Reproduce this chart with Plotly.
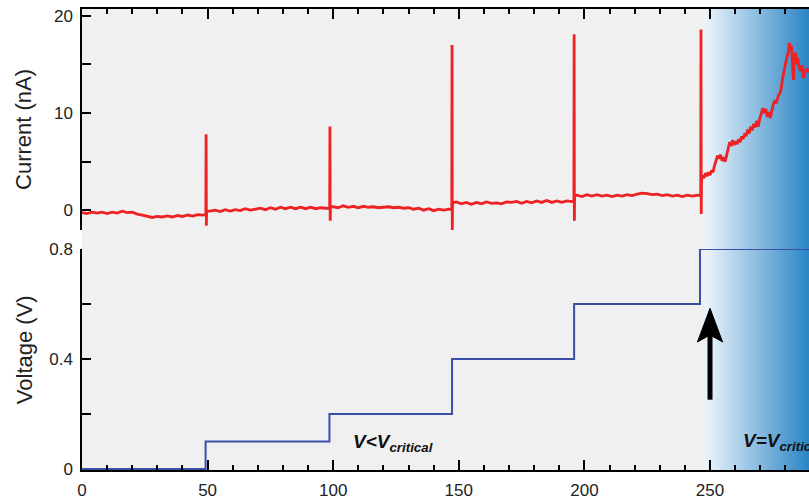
import plotly.graph_objects as go

# ---------------- data ----------------
seg_a_t = [0, 2, 4, 6, 8, 10, 12, 14, 16, 18, 20, 22, 24, 26, 28, 30, 32, 34, 36, 38, 40, 42, 44, 46, 48]
seg_a_i = [-0.25, -0.35, -0.2, -0.3, -0.2, -0.35, -0.2, -0.3, -0.1, -0.25, -0.2, -0.4, -0.5, -0.65, -0.75,
           -0.65, -0.7, -0.6, -0.7, -0.55, -0.65, -0.5, -0.6, -0.45, -0.5]
spike1_t = [49.3, 49.4, 49.5, 49.6]
spike1_i = [-0.45, 7.8, -1.6, -0.1]
seg_b_t = [51, 53, 55, 57, 59, 61, 63, 65, 67, 69, 71, 73, 75, 77, 79, 81, 83, 85, 87, 89, 91, 93, 95, 97]
seg_b_i = [-0.1, 0.0, -0.15, 0.05, -0.1, 0.05, -0.05, 0.15, 0.0, 0.1, 0.2, 0.05, 0.25, 0.1, 0.3, 0.15,
           0.3, 0.15, 0.3, 0.15, 0.3, 0.15, 0.25, 0.2]
spike2_t = [98.6, 98.7, 98.8, 98.9]
spike2_i = [0.2, 8.6, -1.1, 0.35]
seg_c_t = [100, 102, 104, 106, 108, 110, 112, 114, 116, 118, 120, 122, 124, 126, 128, 130, 132, 134, 136,
           138, 140, 142, 144, 146]
seg_c_i = [0.35, 0.25, 0.45, 0.3, 0.4, 0.25, 0.4, 0.3, 0.35, 0.25, 0.3, 0.35, 0.25, 0.3, 0.2, 0.25, 0.1,
           0.2, 0.0, 0.15, -0.05, 0.1, 0.0, 0.1]
spike3_t = [147.2, 147.3, 147.4, 147.5]
spike3_i = [0.05, 17.0, -2.1, 0.75]
seg_d_t = [149, 151, 153, 155, 157, 159, 161, 163, 165, 167, 169, 171, 173, 175, 177, 179, 181, 183, 185,
           187, 189, 191, 193, 195]
seg_d_i = [0.85, 0.65, 0.8, 0.6, 0.8, 0.65, 0.85, 0.7, 0.75, 0.65, 0.85, 0.8, 0.9, 0.7, 0.9, 0.75, 0.95,
           0.8, 1.0, 0.8, 0.95, 0.8, 0.95, 0.85]
spike4_t = [195.8, 195.9, 196.0, 196.1]
spike4_i = [0.85, 18.1, -1.1, 1.5]
seg_e_t = [197, 199, 201, 203, 205, 207, 209, 211, 213, 215, 217, 219, 221, 223, 225, 227, 229, 231, 233,
           235, 237, 239, 241, 243, 245]
seg_e_i = [1.55, 1.4, 1.6, 1.45, 1.6, 1.45, 1.55, 1.4, 1.55, 1.45, 1.6, 1.5, 1.65, 1.75, 1.7, 1.6, 1.65,
           1.5, 1.6, 1.45, 1.55, 1.4, 1.55, 1.45, 1.55]
spike5_t = [246.3, 246.4, 246.5, 246.6]
spike5_i = [1.5, 18.6, -0.4, 3.0]
seg_f_t = [247.0, 247.6, 248.2, 248.8, 249.4, 250.0, 250.6, 251.2, 251.8, 252.4, 253.0, 253.6, 254.2,
           254.8, 255.4, 256.0, 256.6, 257.2, 257.8, 258.4, 259.0, 259.6, 260.2, 260.8, 261.4, 262.0,
           262.6, 263.2, 263.8, 264.4, 265.0, 265.6, 266.2, 266.8, 267.4, 268.0, 268.6, 269.2, 269.8,
           270.4, 271.0, 271.6, 272.2, 272.8, 273.4, 274.0, 274.6, 275.2, 275.8, 276.4, 277.0, 277.6,
           278.2, 278.8, 279.4, 280.0, 280.6, 281.2, 281.6, 282.0, 282.4, 282.8, 283.2, 283.6, 284.0,
           284.4, 284.8, 285.4, 286.0, 286.6, 287.2, 287.8, 288.4, 289.0, 289.4]
seg_f_i = [3.6, 3.3, 3.8, 3.5, 3.9, 3.6, 4.1, 3.9, 4.6, 5.0, 5.6, 5.3, 5.7, 5.1, 5.3, 5.0, 5.8, 6.3,
           7.0, 6.6, 7.2, 6.7, 7.1, 6.8, 7.3, 7.0, 7.6, 7.3, 7.9, 7.6, 8.3, 7.9, 8.6, 8.2, 8.9, 8.5,
           9.2, 8.6, 9.4, 9.9, 10.5, 10.0, 10.4, 9.6, 10.1, 9.5, 10.3, 10.9, 11.3, 11.0, 11.6, 12.0,
           12.3, 13.4, 14.4, 15.0, 15.7, 16.3, 17.2, 16.4, 16.9, 15.6, 13.4, 15.8, 16.2, 15.0, 15.7,
           14.8, 14.3, 14.9, 13.6, 14.2, 14.6, 14.2, 14.6]

time_current = (seg_a_t + spike1_t + seg_b_t + spike2_t + seg_c_t + spike3_t + seg_d_t + spike4_t +
                seg_e_t + spike5_t + seg_f_t)
current_nA = (seg_a_i + spike1_i + seg_b_i + spike2_i + seg_c_i + spike3_i + seg_d_i + spike4_i +
              seg_e_i + spike5_i + seg_f_i)

time_voltage = [0, 49.2, 98.5, 147.3, 195.9, 246.0, 289.4]
voltage_V = [0, 0.1, 0.2, 0.4, 0.6, 0.8, 0.8]

x_range = [0, 289.4]
critical_start = 248.0
arrow_x = 250
arrow_tail_v = 0.252
arrow_tip_v = 0.584

# ---------------- figure ----------------
fig = go.Figure()
fig.add_trace(go.Scatter(x=time_current, y=current_nA, mode="lines",
                         line=dict(color="#ee2124", width=2.8), xaxis="x", yaxis="y",
                         showlegend=False, hoverinfo="skip"))
fig.add_trace(go.Scatter(x=time_voltage, y=voltage_V, mode="lines", line_shape="hv",
                         line=dict(color="#3b4fa8", width=2), xaxis="x2", yaxis="y2",
                         showlegend=False, hoverinfo="skip"))

shapes = []
# gray background for V < Vcritical
shapes.append(dict(type="rect", xref="x", yref="paper", x0=x_range[0], x1=critical_start, y0=0, y1=1,
                   fillcolor="#f0f0f0", line_width=0, layer="below"))
# gradient for V = Vcritical (overlapping strips, each running to the right edge)
n = 60
c0 = (236, 244, 251)
c1 = (44, 134, 197)
w = (x_range[1] - critical_start) / n
for k in range(n):
    f = k / (n - 1)
    col = "rgb(%d,%d,%d)" % tuple(round(c0[j] + (c1[j] - c0[j]) * f) for j in range(3))
    shapes.append(dict(type="rect", xref="x", yref="paper", x0=critical_start + k * w,
                       x1=x_range[1] + 5, y0=0, y1=1,
                       fillcolor=col, line_width=0, layer="below"))
# arrow
head_len = 0.122
notch = 0.097
half_w = 5.0
shapes.append(dict(type="line", xref="x2", yref="y2", x0=arrow_x, x1=arrow_x, y0=arrow_tail_v,
                   y1=arrow_tip_v - notch + 0.01, line=dict(color="black", width=5)))
shapes.append(dict(type="path", xref="x2", yref="y2",
                   path="M %f,%f L %f,%f L %f,%f L %f,%f Z" % (
                       arrow_x, arrow_tip_v, arrow_x + half_w, arrow_tip_v - head_len,
                       arrow_x, arrow_tip_v - notch, arrow_x - half_w, arrow_tip_v - head_len),
                   fillcolor="black", line=dict(color="black", width=1)))

font_family = "Liberation Sans, Arial, sans-serif"
tick_font = dict(family=font_family, size=17, color="#222222")

annotations = [
    dict(text="Current (nA)", xref="paper", yref="paper", x=0, xshift=-58, y=0.7376,
         textangle=-90, showarrow=False, font=dict(family=font_family, size=22, color="#222222"),
         xanchor="center", yanchor="middle"),
    dict(text="Voltage (V)", xref="paper", yref="paper", x=0, xshift=-58, y=0.260,
         textangle=-90, showarrow=False, font=dict(family=font_family, size=22, color="#222222"),
         xanchor="center", yanchor="middle"),
    dict(text="<b><i>V&lt;V<sub>critical</sub></i></b>", xref="x2", yref="y2", x=107.0, y=0.093,
         showarrow=False, xanchor="left", yanchor="middle",
         font=dict(family=font_family, size=19, color="#111111")),
    dict(text="<b><i>V=V<sub>critical</sub></i></b>", xref="x2", yref="y2", x=262.5, y=0.097,
         showarrow=False, xanchor="left", yanchor="middle",
         font=dict(family=font_family, size=19, color="#111111")),
]

axis_common = dict(showgrid=False, zeroline=False, showline=True, linecolor="black", linewidth=1.5,
                   ticks="inside", tickcolor="black", tickwidth=1.5, tickfont=tick_font)

fig.update_layout(
    width=809, height=500,
    margin=dict(l=82, r=0, t=8, b=27),
    paper_bgcolor="white", plot_bgcolor="rgba(0,0,0,0)",
    xaxis=dict(domain=[0, 1], anchor="y", side="top", range=x_range, dtick=50, tick0=0,
               ticklen=10, showticklabels=False,
               minor=dict(dtick=10, tick0=0, ticks="inside", ticklen=5, tickcolor="black", tickwidth=1.5),
               **axis_common),
    xaxis2=dict(domain=[0, 1], anchor="y2", range=x_range, dtick=50, tick0=0, ticklen=10,
                minor=dict(dtick=10, tick0=0, ticks="inside", ticklen=5, tickcolor="black", tickwidth=1.5),
                ticklabelstandoff=4,
                **axis_common),
    yaxis=dict(domain=[0.5204, 1], anchor="x", range=[-2.05, 20.7], dtick=10, tick0=0, ticklen=9,
               minor=dict(dtick=5, tick0=0, ticks="inside", ticklen=9, tickcolor="black", tickwidth=1.5),
               ticklabelstandoff=4,
               **axis_common),
    yaxis2=dict(domain=[0, 0.4796], anchor="x2", range=[-0.0036, 0.8], dtick=0.4, tick0=0, ticklen=9,
                minor=dict(dtick=0.2, tick0=0, ticks="inside", ticklen=9, tickcolor="black", tickwidth=1.5),
                ticklabelstandoff=4,
                **axis_common),
    shapes=shapes,
    annotations=annotations,
)

fig.write_html("out.html")
